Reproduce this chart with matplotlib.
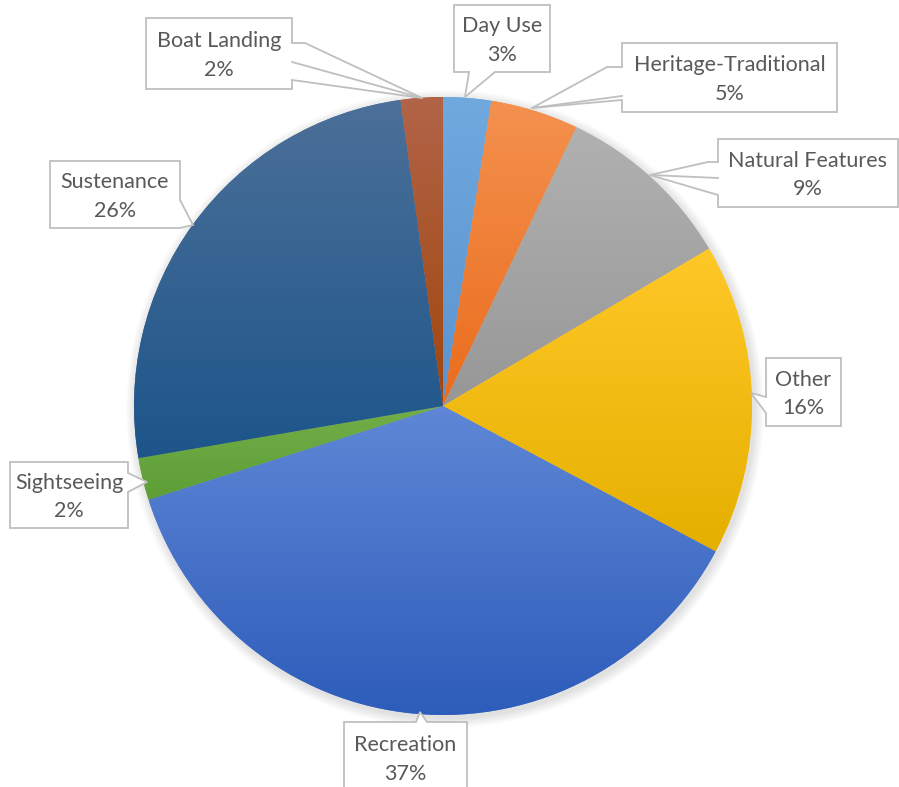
import matplotlib.pyplot as plt
import numpy as np
from matplotlib.colors import to_rgb
from matplotlib.patches import Circle, Polygon

# data (clockwise from 12 o'clock)
categories = ["Day Use", "Heritage-Traditional", "Natural Features", "Other",
              "Recreation", "Sightseeing", "Sustenance", "Boat Landing"]
shares = [2.5, 4.6, 9.4, 16.3, 37.3, 2.2, 25.5, 2.2]

# gradient colours per slice (top, bottom)
grad_top = ["#70A9DE", "#F4914F", "#B1B1B1", "#FFC828",
            "#5F87D6", "#72AE48", "#4C7099", "#B26448"]
grad_bot = ["#5A93CF", "#EA6C1C", "#979797", "#E5AF00",
            "#2D5CBA", "#5E9E36", "#1D558A", "#A0460E"]

W, H = 899, 787
CX, CY, R = 443, 406, 309


def Y(y):
    return H - y


# callout outlines in pixel coords (x, y from top-left)
callouts = {
    "Day Use": dict(box=(454, 5, 550, 72),
                    path=[(454, 5), (550, 5), (550, 72), (495, 72), (465, 97),
                          (469, 72), (454, 72)]),
    "Heritage-Traditional": dict(box=(622, 43, 837, 112),
                                 path=[(622, 43), (837, 43), (837, 112), (622, 112),
                                       (622, 100), (532, 108), (607, 67), (622, 67)],
                                 extra=[((622, 96), (532, 108))]),
    "Natural Features": dict(box=(718, 139, 898, 207),
                             path=[(718, 139), (898, 139), (898, 207), (718, 207),
                                   (718, 195), (650, 175), (708, 162), (718, 162)],
                             extra=[((718, 178), (650, 175))]),
    "Other": dict(box=(766, 358, 841, 426),
                  path=[(766, 358), (841, 358), (841, 426), (766, 426),
                        (766, 413), (751, 393), (766, 397)]),
    "Recreation": dict(box=(344, 722, 467, 793),
                       path=[(344, 722), (416, 722), (420, 712), (427, 722),
                             (467, 722), (467, 795), (344, 795)]),
    "Sightseeing": dict(box=(10, 462, 128, 528),
                        path=[(10, 462), (128, 462), (128, 473), (147, 482),
                              (128, 492), (128, 528), (10, 528)]),
    "Sustenance": dict(box=(50, 161, 180, 228),
                       path=[(50, 161), (180, 161), (180, 200), (193, 225),
                             (180, 228), (50, 228)]),
    "Boat Landing": dict(box=(146, 18, 292, 89),
                         path=[(146, 18), (292, 18), (292, 43), (305, 43), (422, 98),
                               (292, 80), (292, 89), (146, 89)],
                         extra=[((292, 62), (422, 98))]),
}

fig = plt.figure(figsize=(W / 100, H / 100), dpi=100)
ax = fig.add_axes([0, 0, 1, 1])

# soft shadow behind the pie
for k in range(10):
    ax.add_patch(Circle((CX + 2, Y(CY) - 3), R + 10 - k, color="k",
                        alpha=0.012, lw=0, zorder=0))

wedges, _ = ax.pie(shares, startangle=90, counterclock=False,
                   center=(CX, Y(CY)), radius=R, colors=grad_top,
                   wedgeprops=dict(linewidth=0))
for z in wedges:
    z.set_zorder(1)

# vertical gradient clipped to each wedge
for w, c0, c1 in zip(wedges, grad_top, grad_bot):
    t = np.radians(np.linspace(w.theta1, w.theta2, 100))
    xs = np.concatenate([[CX], CX + R * np.cos(t)])
    ys = np.concatenate([[Y(CY)], Y(CY) + R * np.sin(t)])
    f = np.linspace(0, 1, 256)[:, None]
    img = (1 - f) * np.array(to_rgb(c1)) + f * np.array(to_rgb(c0))
    im = ax.imshow(img[:, None, :], extent=[xs.min(), xs.max(), ys.min(), ys.max()],
                   origin="lower", aspect="auto", zorder=1, interpolation="bilinear")
    im.set_clip_path(w)

edge = "#BFBFBF"
for name, val in zip(categories, shares):
    c = callouts[name]
    pts = [(x, Y(y)) for x, y in c["path"]]
    ax.add_patch(Polygon(pts, closed=True, fc="white", ec=edge, lw=1.3, zorder=3))
    for (a, b) in c.get("extra", []):
        ax.plot([a[0], b[0]], [Y(a[1]), Y(b[1])], color=edge, lw=1.3, zorder=3)
    x0, y0, x1, y1 = c["box"]
    ax.text((x0 + x1) / 2, Y((y0 + y1) / 2 + 2), f"{name}\n{int(val + 0.5)}%",
            ha="center", va="center", fontsize=15.5, family=["Lato", "DejaVu Sans"],
            color="#595959", linespacing=1.55, zorder=4)

ax.set_xlim(0, W)
ax.set_ylim(0, H)
ax.set_aspect("equal")
ax.axis("off")

plt.savefig("out.png", dpi=100)
